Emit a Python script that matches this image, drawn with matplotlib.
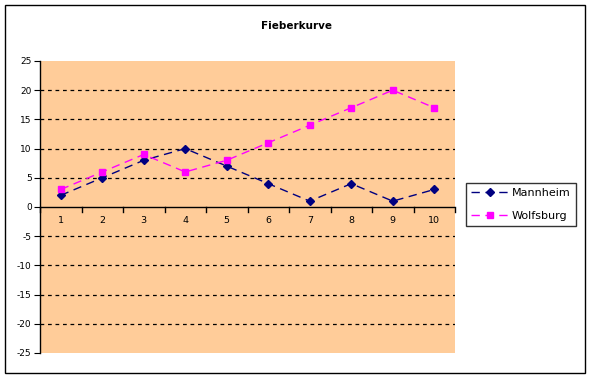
import matplotlib
matplotlib.use("Agg")
import matplotlib.pyplot as plt
from matplotlib.patches import Rectangle

categories = [1, 2, 3, 4, 5, 6, 7, 8, 9, 10]
mannheim = [2, 5, 8, 10, 7, 4, 1, 4, 1, 3]
wolfsburg = [3, 6, 9, 6, 8, 11, 14, 17, 20, 17]
yticks = [-25, -20, -15, -10, -5, 0, 5, 10, 15, 20, 25]

plt.rcParams['font.family'] = ['DejaVu Sans']
plt.rcParams['axes.unicode_minus'] = False

W, H = 589, 378
fig = plt.figure(figsize=(W/100, H/100), dpi=100)
fig.patches.append(Rectangle((5/W, 5/H), 580/W, 368/H, transform=fig.transFigure,
                             fill=False, edgecolor='black', linewidth=1))

ax = fig.add_axes([40/W, 1 - 353/H, 415/W, 292/H])
ax.set_facecolor('#FFCC99')
ax.set_xlim(0.5, 10.5)
ax.set_ylim(-25, 25)

for y in yticks:
    if y not in (0, -25, 25):
        ax.axhline(y, color='black', linestyle=(0, (3, 3)), linewidth=0.9, zorder=1)
ax.axhline(0, color='black', linewidth=1, zorder=2)

for s in ['top', 'right', 'bottom']:
    ax.spines[s].set_visible(False)
ax.spines['left'].set_linewidth(1)

ax.set_yticks(yticks)
ax.tick_params(axis='y', direction='out', length=4, labelsize=6.5, pad=2)
ax.set_xticks([])

# x labels along the zero line, ticks between categories
for i, c in enumerate(categories):
    ax.text(c, -1.6, str(c), ha='center', va='top', fontsize=6.8)
for b in range(0, len(categories) + 1):
    ax.plot([b + 0.5, b + 0.5], [0, -0.8], color='black', linewidth=1, clip_on=False, zorder=2)

ax.plot(categories, mannheim, color='#000080', linestyle=(0, (6, 4)), linewidth=1,
        marker='D', markersize=4.5, label='Mannheim', zorder=3)
ax.plot(categories, wolfsburg, color='#FF00FF', linestyle=(0, (6, 4)), linewidth=1,
        marker='s', markersize=5, label='Wolfsburg', zorder=3)

leg = fig.legend(loc='upper left', bbox_to_anchor=(466/W, 1 - 183/H), fontsize=8,
                 frameon=True, fancybox=False, edgecolor='black', borderpad=0.45,
                 handlelength=3.4, handletextpad=0.3, labelspacing=1.2, borderaxespad=0)
leg.get_frame().set_linewidth(1)

fig.text(297/W, 1 - 26/H, 'Fieberkurve', ha='center', va='center', fontsize=7.5, fontweight='bold')

fig.savefig('out.png', dpi=100)
